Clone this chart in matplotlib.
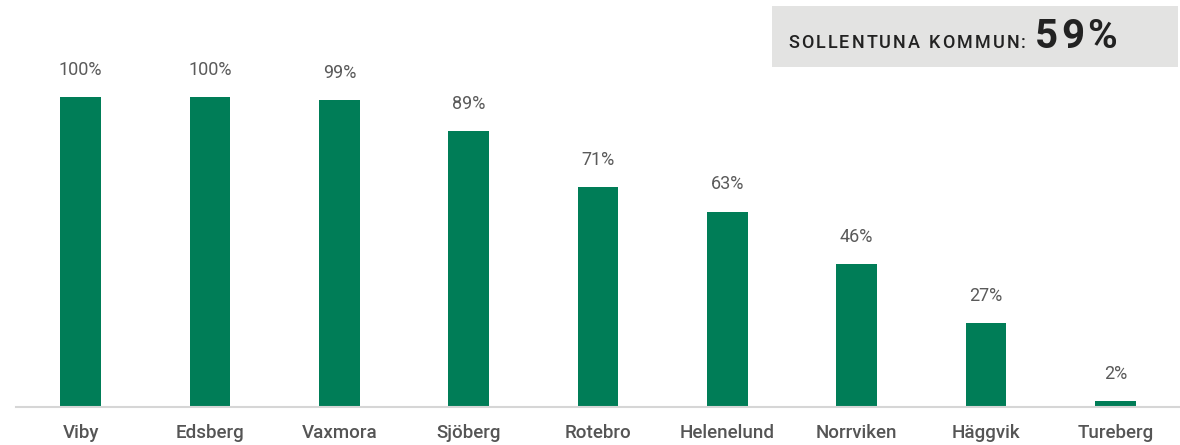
import matplotlib
matplotlib.use("Agg")
import matplotlib.pyplot as plt
from matplotlib.patches import Rectangle

categories = ["Viby", "Edsberg", "Vaxmora", "Sjöberg", "Rotebro", "Helenelund", "Norrviken", "Häggvik", "Tureberg"]
values = [100, 100, 99, 89, 71, 63, 46, 27, 2]
value_labels = ["100%", "100%", "99%", "89%", "71%", "63%", "46%", "27%", "2%"]
box_label = "SOLLENTUNA KOMMUN:"
box_value = "59%"

plt.rcParams['font.family'] = ['Roboto', 'DejaVu Sans']

W, H = 1180, 445
fig = plt.figure(figsize=(W / 100, H / 100), dpi=100)
ax = fig.add_axes([16 / W, 38 / H, 1164 / W, 403 / H])

x = list(range(len(categories)))
ax.bar(x, values, width=0.315, color="#007d57", zorder=2)
ax.set_xlim(-0.5, len(categories) - 0.5)
ax.set_ylim(0, 130)

for xi, v, lab in zip(x, values, value_labels):
    ax.annotate(lab, (xi, v), xytext=(0, 16), textcoords="offset points",
                ha="center", va="baseline", fontsize=13, color="#5a5a5a",
                fontweight="normal")

for s in ["top", "right", "left"]:
    ax.spines[s].set_visible(False)
ax.spines["bottom"].set_color("#d6d6d6")
ax.spines["bottom"].set_linewidth(1.5)
ax.set_yticks([])
ax.set_xticks(x)
ax.set_xticklabels(categories, fontsize=13.5, color="#555555", fontweight="medium")
ax.tick_params(axis="x", length=0, pad=12)

# header box
fig.patches.append(Rectangle((772 / W, 1 - 67 / H), 406 / W, 61 / H,
                             transform=fig.transFigure, facecolor="#e3e3e2",
                             edgecolor="none"))

renderer = fig.canvas.get_renderer()


def spaced_text(s, x0, y0, spacing, **kw):
    xp = x0
    for ch in s:
        t = fig.text(xp / W, 1 - y0 / H, ch, ha="left", va="baseline", **kw)
        w = t.get_window_extent(renderer=renderer).width
        if ch == " ":
            w = kw.get("fontsize", 10) * 0.35
        xp += w + spacing
    return xp


spaced_text(box_label, 788, 48, 2.1, fontsize=13, color="#222222", fontweight="medium")
spaced_text(box_value, 1035, 48, 2.8, fontsize=29, color="#222222", fontweight="bold")

fig.savefig("out.png", dpi=100)
